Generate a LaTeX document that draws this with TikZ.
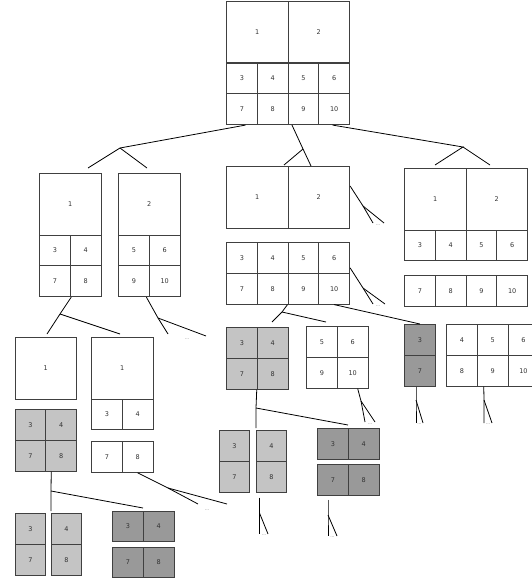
\documentclass[tikz,border=0pt]{standalone}
\usepackage{fontspec}
\setmainfont{DejaVu Sans}
\definecolor{lightfill}{gray}{0.77}
\definecolor{darkfill}{gray}{0.6}
\begin{document}
\begin{tikzpicture}[x=1pt,y=-1pt,
    cell/.style={draw=black!75, line width=1.1pt, anchor=north west, inner sep=0pt,
      minimum width=30.75pt, minimum height=30.75pt,
      font=\fontsize{6.5}{7}\selectfont, text=black!80},
    big/.style={cell, minimum width=61.5pt, minimum height=61.5pt},
    lite/.style={cell, fill=lightfill},
    dark/.style={cell, fill=darkfill},
    link/.style={line width=0.8pt},
    more/.style={font=\fontsize{4.5}{5}\selectfont, text=black!55, inner sep=0pt}]
  \useasboundingbox (0,0) rectangle (532,583);

  % root
  \node[big] (r1) at (226,1) {1};  \node[big] (r2) at (287.5,1) {2};
  \node[cell] (r3) at (226,62.5) {3};    \node[cell] (r4) at (256.75,62.5) {4};
  \node[cell] (r5) at (287.5,62.5) {5};  \node[cell] (r6) at (318.25,62.5) {6};
  \node[cell] (r7) at (226,93.25) {7};   \node[cell] (r8) at (256.75,93.25) {8};
  \node[cell] (r9) at (287.5,93.25) {9}; \node[cell] (r10) at (318.25,93.25) {10};

  % first level, left
  \node[big] (a1) at (39,173) {1};
  \node[cell] (a3) at (39,234.5) {3};     \node[cell] (a4) at (69.75,234.5) {4};
  \node[cell] (a7) at (39,265.25) {7};    \node[cell] (a8) at (69.75,265.25) {8};
  \node[big] (b2) at (118,173) {2};
  \node[cell] (b5) at (118,234.5) {5};    \node[cell] (b6) at (148.75,234.5) {6};
  \node[cell] (b9) at (118,265.25) {9};   \node[cell] (b10) at (148.75,265.25) {10};

  % first level, middle
  \node[big] (c1) at (226,166) {1};  \node[big] (c2) at (287.5,166) {2};
  \node[cell] (d3) at (226,242) {3};     \node[cell] (d4) at (256.75,242) {4};
  \node[cell] (d5) at (287.5,242) {5};   \node[cell] (d6) at (318.25,242) {6};
  \node[cell] (d7) at (226,272.75) {7};  \node[cell] (d8) at (256.75,272.75) {8};
  \node[cell] (d9) at (287.5,272.75) {9};\node[cell] (d10) at (318.25,272.75) {10};

  % first level, right
  \node[big] (e1) at (404,168) {1};  \node[big] (e2) at (465.5,168) {2};
  \node[cell] (e3) at (404,229.5) {3};   \node[cell] (e4) at (434.75,229.5) {4};
  \node[cell] (e5) at (465.5,229.5) {5}; \node[cell] (e6) at (496.25,229.5) {6};
  \node[cell] (f7) at (404,275) {7};     \node[cell] (f8) at (434.75,275) {8};
  \node[cell] (f9) at (465.5,275) {9};   \node[cell] (f10) at (496.25,275) {10};

  % second level
  \node[big] (g1) at (14.5,337) {1};
  \node[lite] (h3) at (14.5,409) {3};     \node[lite] (h4) at (45.25,409) {4};
  \node[lite] (h7) at (14.5,439.75) {7};  \node[lite] (h8) at (45.25,439.75) {8};
  \node[big] (i1) at (91,337) {1};
  \node[cell] (i3) at (91,398.5) {3};     \node[cell] (i4) at (121.75,398.5) {4};
  \node[cell] (j7) at (91,441) {7};       \node[cell] (j8) at (121.75,441) {8};
  \node[lite] (o3) at (226,327) {3};      \node[lite] (o4) at (256.75,327) {4};
  \node[lite] (o7) at (226,357.75) {7};   \node[lite] (o8) at (256.75,357.75) {8};
  \node[cell] (p5) at (306,326) {5};      \node[cell] (p6) at (336.75,326) {6};
  \node[cell] (p9) at (306,356.75) {9};   \node[cell] (p10) at (336.75,356.75) {10};
  \node[dark] (s3) at (404,324) {3};      \node[dark] (s7) at (404,354.75) {7};
  \node[cell] (u4) at (446,324) {4};      \node[cell] (u5) at (476.75,324) {5};
  \node[cell] (u6) at (507.5,324) {6};
  \node[cell] (u8) at (446,354.75) {8};   \node[cell] (u9) at (476.75,354.75) {9};
  \node[cell] (u10) at (507.5,354.75) {10};

  % third level
  \node[lite] (k3) at (14.5,513) {3};     \node[lite] (k7) at (14.5,543.75) {7};
  \node[lite] (l4) at (50.5,513) {4};     \node[lite] (l8) at (50.5,543.75) {8};
  \node[dark] (m3) at (112,510.5) {3};    \node[dark] (m4) at (142.75,510.5) {4};
  \node[dark] (n7) at (112,546.5) {7};    \node[dark] (n8) at (142.75,546.5) {8};
  \node[lite] (q3) at (218.5,430) {3};    \node[lite] (q7) at (218.5,460.75) {7};
  \node[lite] (q4) at (255.5,430) {4};    \node[lite] (q8) at (255.5,460.75) {8};
  \node[dark] (v3) at (317,428) {3};      \node[dark] (v4) at (347.75,428) {4};
  \node[dark] (w7) at (317,464) {7};      \node[dark] (w8) at (347.75,464) {8};

  % connectors
  \draw[link] ([xshift=3.5pt]r7.south) -- (120,148) coordinate (ra) -- (88,168) coordinate (ra1);
  \draw[link] (ra) -- (147,168) coordinate (ra2);
  \draw[link] ([xshift=4.5pt]r9.south west) -- (303,149) coordinate (rb) -- (311,166) coordinate (rb2);
  \draw[link] (rb) -- (284,165) coordinate (rb1);
  \draw[link] ([xshift=-1.5pt]r10.south) -- (463,147) coordinate (rc) -- (435,165) coordinate (rc1);
  \draw[link] (rc) -- (490,165) coordinate (rc2);

  \draw[link] ([xshift=1.5pt]a8.south west) -- (60,314) coordinate (aa) -- (47,334) coordinate (aa1);
  \draw[link] (aa) -- (120,334) coordinate (aa2);
  \draw[link] ([xshift=-3.5pt]b9.south east) -- (158,318) coordinate (ba) -- (168,334) coordinate (ba1);
  \draw[link] (ba) -- (206,336) coordinate (ba2);
  \node[more] (dots1) at (187,339) {...};

  \draw[link] ([yshift=-20pt]c2.north east) -- (363,206) coordinate (ca) -- (373,223) coordinate (ca1);
  \draw[link] (ca) -- (384,223) coordinate (ca2);
  \node[more] (dots2) at (378,225) {...};
  \draw[link] ([yshift=6pt]d6.south east) -- (363,288) coordinate (da) -- (373,304) coordinate (da1);
  \draw[link] (da) -- (385,304) coordinate (da2);
  \node[more] (dots3) at (378,306) {...};
  \draw[link] (d9.south west) -- (282,312) coordinate (db) -- (272,322) coordinate (db1);
  \draw[link] (db) -- (326,322) coordinate (db2);
  \draw[link] (d10.south) -- (s3.north);

  \draw[link] ([xshift=6pt]h8.south west) -- (51,491) coordinate (ha) -- (51,511) coordinate (ha1);
  \draw[link] (ha) -- (143,508) coordinate (ha2);
  \draw[link] (j8.south) -- (168,488) coordinate (ja) -- (198,504) coordinate (ja1);
  \draw[link] (ja) -- (227,504) coordinate (ja2);
  \node[more] (dots4) at (207,510) {...};

  \draw[link] (o8.south west) -- (256,408) coordinate (oa) -- (256,428) coordinate (oa1);
  \draw[link] (oa) -- (348,425) coordinate (oa2);
  \draw[link] ([xshift=5pt]p10.south) -- (361,401) coordinate (pa) -- (365,422) coordinate (pa1);
  \draw[link] (pa) -- (375,422) coordinate (pa2);
  \node[more] (dots5) at (370,424) {...};

  \draw[link] ([xshift=4pt,yshift=-5pt]q8.south west) -- (259.5,513) coordinate (qa) -- (259.5,534) coordinate (qa1);
  \draw[link] (qa) -- (268,534) coordinate (qa2);
  \node[more] (dots6) at (264,535) {...};
  \draw[link] ([xshift=11pt,yshift=-4pt]w7.south west) -- (328,515) coordinate (wa) -- (328,536) coordinate (wa1);
  \draw[link] (wa) -- (337,536) coordinate (wa2);
  \node[more] (dots7) at (332.5,537) {...};
  \draw[link] ([xshift=12pt]s7.south west) -- (416,400) coordinate (sa) -- (416,423) coordinate (sa1);
  \draw[link] (sa) -- (423,423) coordinate (sa2);
  \node[more] (dots8) at (419.5,424) {...};
  \draw[link] ([xshift=7pt]u9.south west) -- (484,400) coordinate (ua) -- (484,423) coordinate (ua1);
  \draw[link] (ua) -- (492,423) coordinate (ua2);
  \node[more] (dots9) at (488,424) {...};
\end{tikzpicture}
\end{document}
